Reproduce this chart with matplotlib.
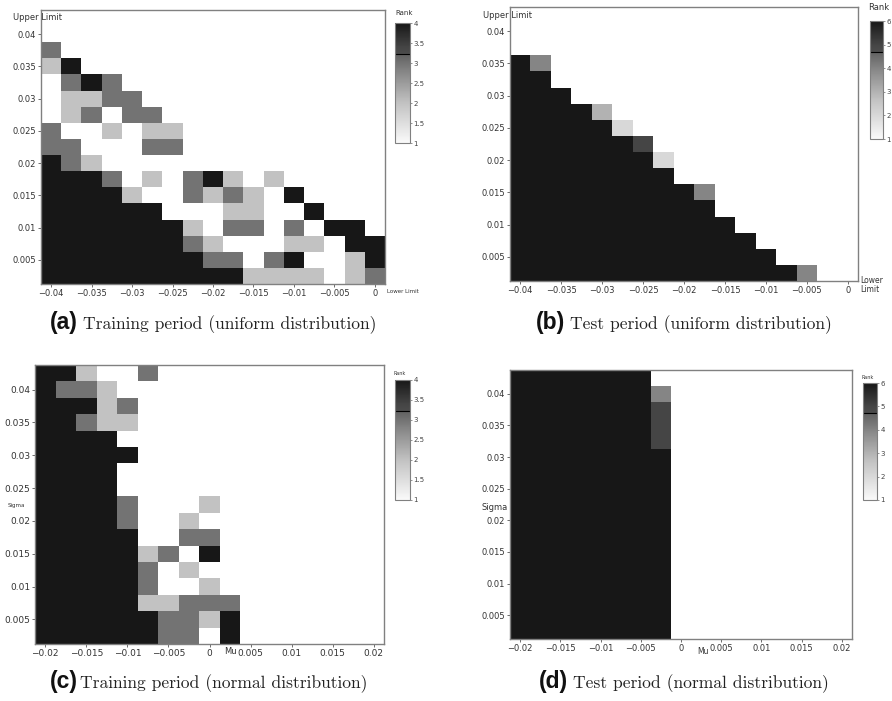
import numpy as np
import matplotlib.pyplot as plt
from matplotlib.colors import LinearSegmentedColormap

# ── grid centres ──────────────────────────────────────────────────────────────
lower_limit = np.linspace(-0.04, 0.0, 17)      # uniform: lower limit
upper_limit = np.linspace(0.0025, 0.0425, 17)  # uniform: upper limit
mu_values = np.linspace(-0.02, 0.02, 17)       # normal: mu
sigma_values = np.linspace(0.0025, 0.0425, 17) # normal: sigma

# ── rank grids, top row first, "." = no colour ───────────────────────────────
rank_train_uniform = [
    ".................",
    ".................",
    "3................",
    "24...............",
    ".343.............",
    ".2233............",
    ".23.33...........",
    "3..2.22..........",
    "33...33..........",
    "432..............",
    "4443.2.342.2.....",
    "44442..3232.4....",
    "444444...22..4...",
    "44444442.33.3.44.",
    "444444432...22.44",
    "4444444433.34..24",
    "44444444442222.23",
]

rank_test_uniform = [
    ".................",
    ".................",
    ".................",
    "64...............",
    "66...............",
    "666..............",
    "66663............",
    "666662...........",
    "6666665..........",
    "66666662.........",
    "66666666.........",
    "6666666664.......",
    "6666666666.......",
    "66666666666......",
    "666666666666.....",
    "6666666666666....",
    "666666666666664..",
]

rank_train_normal = [
    "442..3...........",
    "4332.............",
    "44423............",
    "44322............",
    "4444.............",
    "44444............",
    "4444.............",
    "4444.............",
    "44443...2........",
    "44443..2.........",
    "44444..33........",
    "4444423.4........",
    "444443.2.........",
    "444443..2........",
    "4444422333.......",
    "4444443324.......",
    "44444433.4.......",
]

rank_test_normal = [
    "6666666..........",
    "66666664.........",
    "66666665.........",
    "66666665.........",
    "66666665.........",
    "66666666.........",
    "66666666.........",
    "66666666.........",
    "66666666.........",
    "66666666.........",
    "66666666.........",
    "66666666.........",
    "66666666.........",
    "66666666.........",
    "66666666.........",
    "66666666.........",
    "66666666.........",
]

captions = [
    ("(a)", "Training period (uniform distribution)"),
    ("(b)", "Test period (uniform distribution)"),
    ("(c)", "Training period (normal distribution)"),
    ("(d)", "Test period (normal distribution)"),
]

# grey map with a step near the top, as in the original colour bars
STEP = 0.74
cmap = LinearSegmentedColormap.from_list("rankgrey", [
    (0.0, (0.98,) * 3),
    (0.333, (0.76,) * 3),
    (0.6, (0.52,) * 3),
    (0.667, (0.45,) * 3),
    (STEP, (0.38,) * 3),
    (STEP + 0.0001, (0.30,) * 3),
    (0.8, (0.27,) * 3),
    (1.0, (0.09,) * 3),
])


def parse(rows):
    arr = np.array([[np.nan if ch == "." else float(ch) for ch in r] for r in rows])
    return np.ma.masked_invalid(arr[::-1])


def fmt(v):
    s = f"{v:g}"
    return s.replace("-", "\u2212")


def px(x, y, w, h):
    # figure pixel box -> figure fraction
    return [x / 892, 1 - (y + h) / 701, w / 892, h / 701]


fig = plt.figure(figsize=(8.92, 7.01), dpi=100)
fig.patch.set_facecolor("white")

panels = [
    dict(grid=rank_train_uniform, xs=lower_limit, ys=upper_limit, vmax=4,
         ax=px(41, 10, 344, 274), cax=px(395, 23, 15, 120),
         xticks=np.linspace(-0.04, 0, 9), lab=6),
    dict(grid=rank_test_uniform, xs=lower_limit, ys=upper_limit, vmax=6,
         ax=px(510, 7, 348, 274), cax=px(870, 21, 13, 118),
         xticks=np.linspace(-0.04, 0, 9), lab=6),
    dict(grid=rank_train_normal, xs=mu_values, ys=sigma_values, vmax=4,
         ax=px(35, 365, 349, 279), cax=px(395, 380, 15, 120),
         xticks=np.linspace(-0.02, 0.02, 9), lab=6.5),
    dict(grid=rank_test_normal, xs=mu_values, ys=sigma_values, vmax=6,
         ax=px(510, 370, 342, 269), cax=px(863, 383, 14, 117),
         xticks=np.linspace(-0.02, 0.02, 9), lab=6),
]

for p in panels:
    ax = fig.add_axes(p["ax"])
    cax = fig.add_axes(p["cax"])
    data = parse(p["grid"])
    mesh = ax.pcolormesh(p["xs"], p["ys"], data, shading="nearest", cmap=cmap,
                         vmin=1, vmax=p["vmax"], linewidth=0, antialiased=False)
    step = 0.0025
    ax.set_xlim(p["xs"][0] - step / 2, p["xs"][-1] + step / 2)
    ax.set_ylim(p["ys"][0] - step / 2, p["ys"][-1] + step / 2)
    yt = np.linspace(0.005, 0.04, 8)
    ax.set_yticks(yt)
    ax.set_yticklabels([fmt(v) for v in yt])
    ax.set_xticks(p["xticks"])
    ax.set_xticklabels([fmt(v) for v in p["xticks"]])
    ax.tick_params(length=2, width=0.6, color="#555555", labelsize=p["lab"],
                   pad=1.5, labelcolor="#333333")
    for s in ax.spines.values():
        s.set_color("#808080")
        s.set_linewidth(1.0)

    cb = fig.colorbar(mesh, cax=cax)
    if p["vmax"] == 4:
        cb.set_ticks([1, 1.5, 2, 2.5, 3, 3.5, 4])
        cb.set_ticklabels(["1", "1.5", "2", "2.5", "3", "3.5", "4"])
    else:
        cb.set_ticks([1, 2, 3, 4, 5, 6])
    cb.ax.tick_params(length=1.5, width=0.5, labelsize=5, pad=1,
                      labelcolor="#444444", color="#666666")
    cb.outline.set_edgecolor("#808080")
    cb.outline.set_linewidth(0.8)
    cax.axhline(1 + STEP * (p["vmax"] - 1), color="black", linewidth=0.8)

# colour bar titles
fig.text(395 / 892, 1 - 13 / 701, "Rank", fontsize=5, color="#333333", va="center")
fig.text(868 / 892, 1 - 8 / 701, "Rank", fontsize=6, color="#333333", va="center")
fig.text(393 / 892, 1 - 374 / 701, "Rank", fontsize=3.5, color="#333333", va="center")
fig.text(862 / 892, 1 - 378 / 701, "Rank", fontsize=3.5, color="#333333", va="center")

# axis names
fig.text(13 / 892, 1 - 17 / 701, "Upper Limit", fontsize=6, color="#333333", va="center")
fig.text(387 / 892, 1 - 292 / 701, "Lower Limit", fontsize=4, color="#333333", va="center")
fig.text(483 / 892, 1 - 15 / 701, "Upper Limit", fontsize=6, color="#333333", va="center")
fig.text(860 / 892, 1 - 285 / 701, "Lower\nLimit", fontsize=5.5, color="#333333",
         va="center", linespacing=1.0)
fig.text(8 / 892, 1 - 505 / 701, "Sigma", fontsize=4, color="#333333", va="center")
fig.text(224 / 892, 1 - 652 / 701, "Mu", fontsize=6, color="#333333", va="center")
fig.text(482 / 892, 1 - 507 / 701, "Sigma", fontsize=6, color="#333333", va="center")
fig.text(697 / 892, 1 - 651 / 701, "Mu", fontsize=5.5, color="#333333", va="center")

# captions: bold tag + serif text, centred under each panel
renderer = fig.canvas.get_renderer()
cap_layout = [(213, 329, 5), (684, 329, 5), (209, 688, 2), (684, 688, 5)]
for (tag, txt), (cx, base, gap) in zip(captions, cap_layout):
    t1 = fig.text(0, 1 - base / 701, tag, fontsize=16.5, fontweight="bold",
                  family="Liberation Sans", va="baseline", color="#111111")
    t2 = fig.text(0, 1 - base / 701, txt, fontsize=12.6,
                  family="cmr10", va="baseline", color="#222222")
    w1 = t1.get_window_extent(renderer).width
    w2 = t2.get_window_extent(renderer).width
    x0 = cx - (w1 + gap + w2) / 2
    t1.set_x(x0 / 892)
    t2.set_x((x0 + w1 + gap) / 892)

fig.savefig("out.png", dpi=100, facecolor="white")
